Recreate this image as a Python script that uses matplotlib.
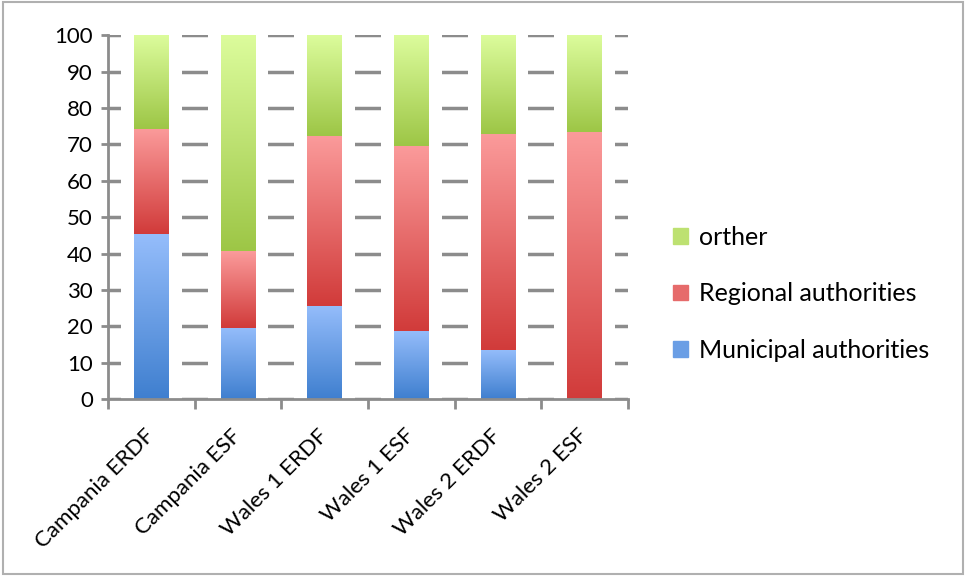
import numpy as np
import matplotlib.pyplot as plt
from matplotlib.patches import Rectangle
from matplotlib.colors import LinearSegmentedColormap

plt.rcParams['font.family'] = ['Lato', 'DejaVu Sans']

categories = ["Campania ERDF", "Campania ESF", "Wales 1 ERDF",
              "Wales 1 ESF", "Wales 2 ERDF", "Wales 2 ESF"]
municipal = [45.3, 19.6, 25.6, 18.7, 13.5, 0.0]
regional = [28.9, 21.1, 46.7, 50.9, 59.4, 73.4]
other = [25.8, 59.3, 27.7, 30.4, 27.1, 26.6]

series = [
    ("Municipal authorities", municipal, "#3F7FCF", "#95BDFB"),
    ("Regional authorities", regional, "#D13B3A", "#FB9B9B"),
    ("orther", other, "#9DC646", "#DCFC9C"),
]

GRID = "#8c8c8c"
BAR_W = 0.4

fig = plt.figure(figsize=(9.66, 5.76), dpi=100)
ax = fig.add_axes([0.112, 0.307, 0.538, 0.632])

x = np.arange(len(categories))

ax.set_yticks(np.arange(0, 101, 10))
ax.yaxis.grid(True, color=GRID, linewidth=2.5, zorder=0)
ax.set_axisbelow(True)

# white halo around bars that cuts the gridlines
totals = np.sum([s[1] for s in series], axis=0)
ax.bar(x, totals, width=BAR_W + 0.3, color="white", zorder=1)

bottom = np.zeros(len(categories))
handles = []
for name, vals, dark, light in series:
    cmap = LinearSegmentedColormap.from_list(name, [dark, light])
    bars = ax.bar(x, vals, BAR_W, bottom=bottom, color=light, label=name,
                  zorder=2, linewidth=0)
    grad = np.linspace(0, 1, 256).reshape(-1, 1)
    for b in bars:
        if b.get_height() <= 0:
            continue
        x0, y0 = b.get_x(), b.get_y()
        ax.imshow(grad, cmap=cmap, origin="lower", aspect="auto",
                  extent=[x0, x0 + b.get_width(), y0, y0 + b.get_height()],
                  zorder=3)
    handles.append(Rectangle((0, 0), 1, 1, color=cmap(0.5)))
    bottom += np.array(vals)

ax.set_xlim(-0.5, len(categories) - 0.5)
ax.set_ylim(0, 100)

ax.set_xticks(x)
ax.set_xticklabels(categories, rotation=45, ha="right", va="center",
                   rotation_mode="anchor", fontsize=16)
ax.tick_params(axis="x", length=0, pad=24)
ax.set_xticks(np.arange(-0.5, len(categories)), minor=True)
ax.tick_params(axis="x", which="minor", length=7, width=2, color=GRID)
ax.tick_params(axis="y", length=5, width=2, color=GRID, labelsize=16, pad=6)

for side in ["top", "right"]:
    ax.spines[side].set_visible(False)
for side in ["left", "bottom"]:
    ax.spines[side].set_color(GRID)
    ax.spines[side].set_linewidth(2)
    ax.spines[side].set_zorder(5)

names = [s[0] for s in series]
ax.legend(handles[::-1], names[::-1], loc="center left",
          bbox_to_anchor=(0.673, 0.49), bbox_transform=fig.transFigure,
          frameon=False, fontsize=18, handlelength=0.6, handleheight=0.6,
          handletextpad=0.45, labelspacing=1.35)

fig.patches.append(Rectangle((0.003, 0.003), 0.994, 0.994, transform=fig.transFigure,
                             fill=False, edgecolor="#b0b0b0", linewidth=1.5))

fig.savefig("out.png", dpi=100)
